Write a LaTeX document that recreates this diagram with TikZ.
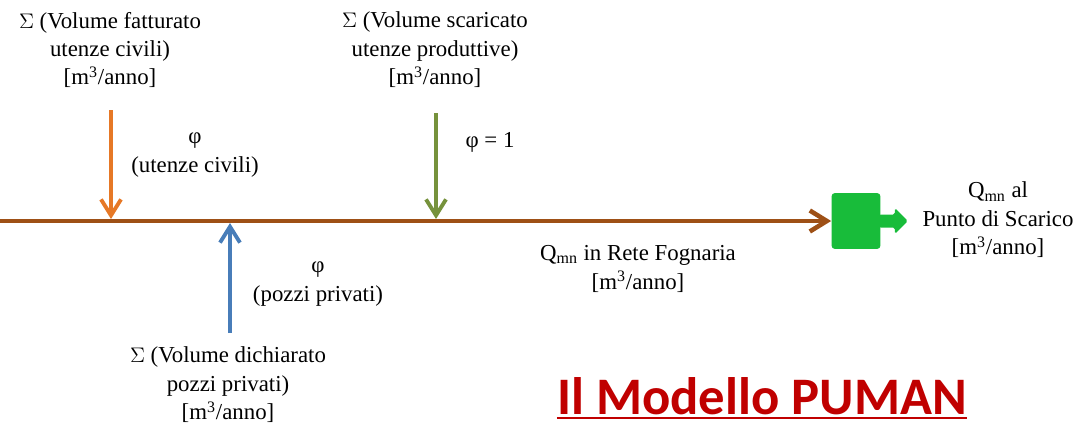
\documentclass[tikz,border=0pt]{standalone}
\usepackage{fontspec}
\setmainfont{Liberation Serif}
\newfontfamily\titlefont{Carlito}
\usepackage{xcolor}
\usetikzlibrary{arrows.meta,positioning}

\definecolor{sewerbrown}{RGB}{158,80,22}
\definecolor{civorange}{RGB}{230,120,38}
\definecolor{prodgreen}{RGB}{118,146,60}
\definecolor{wellblue}{RGB}{72,125,185}
\definecolor{outgreen}{RGB}{24,188,58}
\definecolor{titlered}{RGB}{192,0,0}

\begin{document}
\begin{tikzpicture}[x=0.02cm, y=-0.02cm,
  every node/.style={font=\fontsize{13}{16.2}\selectfont, align=center, inner sep=0pt},
  feed/.style={-{Straight Barb[length=3.2mm, width=4mm, line width=2.2pt]}, line width=1.8pt},
  main/.style={-{Straight Barb[length=3.4mm, width=4.2mm, line width=2.6pt]}, line width=2.6pt, sewerbrown},
  outlet/.style={fill=outgreen, rounded corners=2pt, minimum width=0.98cm, minimum height=1.12cm},
]
\useasboundingbox (0,0) rectangle (1080,423);

% sources
\node (civ)  at (110,50)  {$\Sigma$ (Volume fatturato\\utenze civili)\\{}[m\textsuperscript{3}/anno]};
\node (prod) at (435,50)  {$\Sigma$ (Volume scaricato\\utenze produttive)\\{}[m\textsuperscript{3}/anno]};
\node (well) at (228,385) {$\Sigma$ (Volume dichiarato\\pozzi privati)\\{}[m\textsuperscript{3}/anno]};

% coefficients
\node (phiciv)  at (195,155) {φ\\(utenze civili)};
\node (phiprod) at (490,142) {φ = 1};
\node (phiwell) at (318,284) {φ\\(pozzi privati)};

% outlet
\node[outlet] (out) at (856,221) {};
\fill[outgreen, rounded corners=1pt] ([shift={(-2,-6.5)}]out.east) -- ++(16,0) -- ++(0,-6.5)
  -- ++(13,13) -- ++(-13,13) -- ++(0,-6.5) -- ++(-16,0) -- cycle;

\node (qrete) at (638,269) {Q\textsubscript{mn} in Rete Fognaria\\{}[m\textsuperscript{3}/anno]};
\node (qout)  at (998,220) {Q\textsubscript{mn} al\\Punto di Scarico\\{}[m\textsuperscript{3}/anno]};

% main sewer line
\coordinate (start) at (0,221);
\draw[main] (start) -- (out.west);

% inflows
\coordinate (civtop)  at (111,110);
\coordinate (civin)   at (111,219);
\coordinate (prodtop) at (436,113);
\coordinate (prodin)  at (436,219);
\coordinate (wellbot) at (230,333);
\coordinate (wellin)  at (230,223);
\draw[feed, civorange] (civtop) -- (civin);
\draw[feed, prodgreen] (prodtop) -- (prodin);
\draw[feed, wellblue] (wellbot) -- (wellin);

% title
\node[font=\titlefont\bfseries\fontsize{30}{34}\selectfont, text=titlered] (title) at (762,396) {Il Modello PUMAN};
\draw[titlered, line width=1.1pt] ([yshift=-1.5pt]title.south west) -- ([yshift=-1.5pt]title.south east);
\end{tikzpicture}
\end{document}
